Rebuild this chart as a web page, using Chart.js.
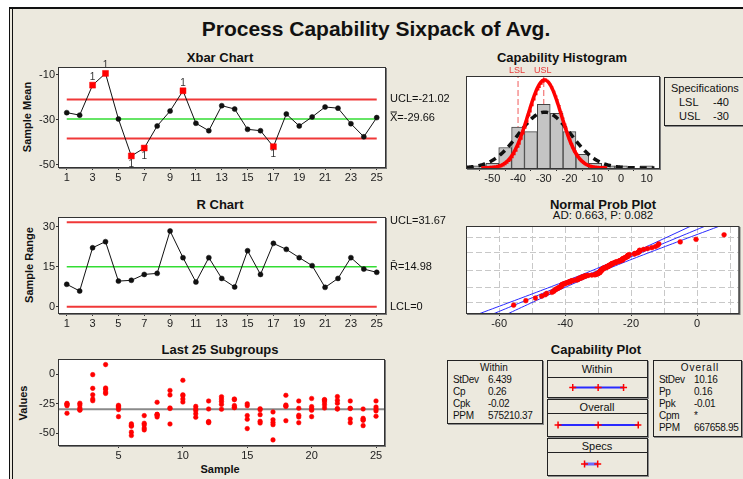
<!DOCTYPE html>
<html lang="en">
<head>
<meta charset="UTF-8">
<title>Process Capability Sixpack of Avg.</title>
<script src="https://cdn.jsdelivr.net/npm/chart.js"></script>
<style>
  html, body { margin: 0; padding: 0; background: #fff; }
  body { position: relative; width: 743px; height: 479px; overflow: hidden;
         font-family: "Liberation Sans", Arial, sans-serif; color: #111; }
  #panel { position: absolute; left: 10px; top: 9px; width: 740px; height: 480px; background: #ece9de; }
  .rule { position: absolute; background: #111; }
  .lbl { position: absolute; white-space: nowrap; transform: translate(-50%, -50%); line-height: 1; }
  .lft { position: absolute; white-space: nowrap; transform: translateY(-50%); line-height: 1; }
  .st { font-size: 10px; letter-spacing: -0.3px; }
  .vert { position: absolute; white-space: nowrap; transform: translate(-50%, -50%) rotate(-90deg);
          font-weight: bold; font-size: 11px; line-height: 1; }
  .ttl { font-weight: bold; font-size: 13px; }
  .box { position: absolute; box-sizing: border-box; border: 1px solid #222; background: #ece9de;
         box-shadow: 1px 1px 0 #8a8a8a; }
  canvas { position: absolute; }
</style>
</head>
<body>
<div id="panel"></div>
<div class="rule" style="left:9px;top:7px;width:734px;height:2px"></div>
<div class="rule" style="left:9px;top:7px;width:1px;height:472px"></div>
<div class="rule" style="left:12px;top:9px;width:1px;height:470px"></div>

<div class="lbl" style="left:376px;top:28px;font-size:21px;font-weight:bold">Process Capability Sixpack of Avg.</div>
<div class="lbl ttl" style="left:220px;top:57px">Xbar Chart</div>
<div class="lbl ttl" style="left:220px;top:204px">R Chart</div>
<div class="lbl ttl" style="left:220px;top:349px">Last 25 Subgroups</div>
<div class="lbl ttl" style="left:562px;top:57px">Capability Histogram</div>
<div class="lbl ttl" style="left:603px;top:204px">Normal Prob Plot</div>
<div class="lbl" style="left:603px;top:216px;font-size:11.5px">AD: 0.663, P: 0.082</div>
<div class="lbl ttl" style="left:596px;top:349px">Capability Plot</div>
<div class="vert" style="left:27px;top:117px">Sample Mean</div>
<div class="vert" style="left:29px;top:265px">Sample Range</div>
<div class="vert" style="left:23px;top:403px">Values</div>
<div class="lbl" style="left:220px;top:469px;font-size:11px;font-weight:bold">Sample</div>

<!-- specifications box -->
<div class="box" style="left:664px;top:77px;width:100px;height:49px"></div>
<div class="lft" style="left:671px;top:88px;font-size:11px">Specifications</div>
<div class="lft" style="left:679px;top:102px;font-size:11px">LSL</div>
<div class="lft" style="left:713px;top:102px;font-size:11px">-40</div>
<div class="lft" style="left:679px;top:116px;font-size:11px">USL</div>
<div class="lft" style="left:713px;top:116px;font-size:11px">-30</div>

<!-- within stats -->
<div class="box" style="left:447px;top:360px;width:96px;height:64px"></div>
<div class="lbl" style="left:494px;top:368px;font-size:10px">Within</div>
<div class="lft st" style="left:453px;top:379.5px">StDev</div><div class="lft st" style="left:488px;top:379.5px">6.439</div>
<div class="lft st" style="left:453px;top:392px">Cp</div><div class="lft st" style="left:488px;top:392px">0.26</div>
<div class="lft st" style="left:453px;top:404px">Cpk</div><div class="lft st" style="left:488px;top:404px">-0.02</div>
<div class="lft st" style="left:453px;top:416px">PPM</div><div class="lft st" style="left:488px;top:416px">575210.37</div>

<!-- overall stats -->
<div class="box" style="left:653px;top:360px;width:89px;height:77px"></div>
<div class="lbl" style="left:700px;top:368px;font-size:10px;letter-spacing:1px">Overall</div>
<div class="lft st" style="left:659px;top:379.5px">StDev</div><div class="lft st" style="left:694px;top:379.5px">10.16</div>
<div class="lft st" style="left:659px;top:392px">Pp</div><div class="lft st" style="left:694px;top:392px">0.16</div>
<div class="lft st" style="left:659px;top:404px">Ppk</div><div class="lft st" style="left:694px;top:404px">-0.01</div>
<div class="lft st" style="left:659px;top:415.5px">Cpm</div><div class="lft st" style="left:694px;top:415.5px">*</div>
<div class="lft st" style="left:659px;top:427.5px">PPM</div><div class="lft st" style="left:694px;top:427.5px">667658.95</div>

<!-- capability plot boxes -->
<div class="box" style="left:547px;top:360px;width:101px;height:38px"></div>
<div class="rule" style="left:547px;top:377px;width:100px;height:1px;background:#222"></div>
<div class="lbl" style="left:597px;top:369px;font-size:11px">Within</div>
<div class="box" style="left:547px;top:399px;width:101px;height:38px"></div>
<div class="rule" style="left:547px;top:413px;width:100px;height:1px;background:#222"></div>
<div class="lbl" style="left:597px;top:406.5px;font-size:11px">Overall</div>
<div class="box" style="left:547px;top:438px;width:101px;height:38px"></div>
<div class="rule" style="left:547px;top:452px;width:100px;height:1px;background:#222"></div>
<div class="lbl" style="left:597px;top:445.5px;font-size:11px">Specs</div>

<script>
// ---------------- data ----------------
const samples = [1,2,3,4,5,6,7,8,9,10,11,12,13,14,15,16,17,18,19,20,21,22,23,24,25];
const xbarMeans = [-26.8,-27.9,-14.6,-9.4,-29.6,-46.0,-42.5,-32.7,-26.1,-17.1,-31.5,-34.8,-23.7,
                   -25.2,-34.2,-34.8,-41.9,-27.4,-32.7,-28.7,-24.3,-24.8,-31.7,-37.5,-29.0];
const xbarUCL = -21.02, xbarCenter = -29.66, xbarLCL = -38.30;
const xbarFlagged = [3,4,6,7,10,17];
const xbarFlagBelow = [6,7,17];
const xbarTicksX = [1,3,5,7,9,11,13,15,17,19,21,23,25];
const xbarTicksY = [-10,-30,-50];

const ranges = [8.4,5.9,22.1,24.4,9.6,9.9,12.1,12.5,28.4,18.4,9.25,18.4,10.6,
                7.4,21.0,12.1,23.75,21.5,18.4,15.4,7.25,10.6,18.4,14.1,12.9];
const rUCL = 31.67, rCenter = 14.98, rLCL = 0;
const rTicksY = [0,15,30];

const subgroupValues = [
  [-24.6,-25.2,-25.8,-26.6,-33.0], [-24.5,-26.0,-28.5,-30.1,-30.4], [-0.3,-11.9,-17.4,-21.0,-22.4],
  [8.2,-11.6,-12.6,-15.0,-16.2], [-26.3,-27.2,-28.3,-29.9,-35.9], [-42.0,-43.3,-44.0,-49.0,-51.9],
  [-35.0,-41.5,-42.9,-45.6,-47.1], [-23.7,-34.0,-34.0,-35.0,-36.2], [-13.7,-17.5,-28.5,-29.0,-42.1],
  [-5.1,-17.4,-18.1,-21.0,-23.5], [-27.2,-29.4,-30.8,-33.5,-36.4], [-22.6,-29.4,-40.0,-40.5,-41.0],
  [-19.0,-21.0,-23.0,-25.5,-29.6], [-20.9,-21.5,-26.5,-28.0,-28.3], [-25.0,-26.6,-35.0,-38.1,-46.0],
  [-29.2,-30.0,-34.2,-39.8,-41.3], [-31.9,-38.5,-40.8,-42.7,-55.6], [-17.8,-26.0,-26.8,-27.2,-39.3],
  [-22.6,-28.8,-34.7,-36.2,-41.0], [-20.5,-27.4,-29.1,-30.5,-35.9], [-21.4,-21.9,-23.5,-25.9,-28.6],
  [-18.9,-22.0,-24.5,-29.0,-29.5], [-22.6,-28.8,-29.0,-37.9,-41.0], [-29.4,-37.3,-38.5,-39.0,-43.5],
  [-22.6,-27.7,-29.5,-31.0,-35.5]
];
const lastTicksX = [5,10,15,20,25];
const lastTicksY = [0,-25,-50];

const binCenters = [-55,-50,-45,-40,-35,-30,-25,-20,-15,-10,-5,0,5,10];
const binCounts  = [1,2,9,18,16,28,24,16,6,2,1,1,0,1];
const histTicksX = [-50,-40,-30,-20,-10,0,10];
const LSL = -40, USL = -30;
const meanAll = -29.66, sdWithin = 6.439, sdOverall = 10.16;

const probGridX = [-60,-50,-40,-30,-20,-10,0,10];
const probTicksX = [-60,-40,-20,0];
const probGridPct = [1,10,50,90,99];

const withinInterval = [-48.98,-29.66,-10.34];
const overallInterval = [-60.14,-29.66,0.82];
const specInterval = [-40,-30];

// ---------------- helpers ----------------
const FONT = '"Liberation Sans", Arial, sans-serif';
const RED = '#f03838', GREEN = '#33dd33';
Chart.defaults.font.family = FONT;
Chart.defaults.animation = false;
Chart.defaults.responsive = false;
Chart.defaults.events = [];
Chart.defaults.plugins.legend.display = false;
Chart.defaults.plugins.tooltip.enabled = false;

function probit(p) {
  const a = [-3.969683028665376e+01, 2.209460984245205e+02, -2.759285104469687e+02, 1.383577518672690e+02, -3.066479806614716e+01, 2.506628277459239e+00];
  const b = [-5.447609879822406e+01, 1.615858368580409e+02, -1.556989798598866e+02, 6.680131188771972e+01, -1.328068155288572e+01];
  const c = [-7.784894002430293e-03, -3.223964580411365e-01, -2.400758277161838e+00, -2.549732539343734e+00, 4.374664141464968e+00, 2.938163982698783e+00];
  const d = [7.784695709041462e-03, 3.224671290700398e-01, 2.445134137142996e+00, 3.754408661907416e+00];
  const pl = 0.02425;
  if (p < pl) {
    const q = Math.sqrt(-2 * Math.log(p));
    return (((((c[0]*q+c[1])*q+c[2])*q+c[3])*q+c[4])*q+c[5]) / ((((d[0]*q+d[1])*q+d[2])*q+d[3])*q+1);
  }
  if (p > 1 - pl) {
    const q = Math.sqrt(-2 * Math.log(1 - p));
    return -(((((c[0]*q+c[1])*q+c[2])*q+c[3])*q+c[4])*q+c[5]) / ((((d[0]*q+d[1])*q+d[2])*q+d[3])*q+1);
  }
  const q = p - 0.5, r = q * q;
  return (((((a[0]*r+a[1])*r+a[2])*r+a[3])*r+a[4])*r+a[5])*q / (((((b[0]*r+b[1])*r+b[2])*r+b[3])*r+b[4])*r+1);
}
const normPdf = (x, m, s) => Math.exp(-0.5 * ((x - m) / s) ** 2) / (s * Math.sqrt(2 * Math.PI));

// white plot area + frame with darker right/bottom edge
const framePlugin = {
  id: 'frame',
  beforeDraw(chart) {
    const { ctx, chartArea: a } = chart;
    ctx.save();
    ctx.fillStyle = '#fff';
    ctx.fillRect(a.left, a.top, a.right - a.left, a.bottom - a.top);
    ctx.restore();
  },
  afterDraw(chart) {
    const { ctx, chartArea: a } = chart;
    ctx.save();
    ctx.strokeStyle = '#777';
    ctx.lineWidth = 2;
    ctx.beginPath();
    ctx.moveTo(a.right + 1, a.top);
    ctx.lineTo(a.right + 1, a.bottom + 1);
    ctx.lineTo(a.left, a.bottom + 1);
    ctx.stroke();
    ctx.strokeStyle = '#333';
    ctx.lineWidth = 1;
    ctx.strokeRect(a.left - 0.5, a.top - 0.5, a.right - a.left + 1, a.bottom - a.top + 1);
    ctx.restore();
  }
};

function tickAxis(min, max, ticks, extra) {
  return Object.assign({
    type: 'linear', min, max,
    afterBuildTicks: s => { s.ticks = ticks.map(v => ({ value: v })); },
    grid: { display: true, drawOnChartArea: false, color: '#333', tickLength: 3 },
    border: { display: false },
    ticks: { color: '#222', font: { size: 11 }, padding: 1, maxRotation: 0, autoSkip: false }
  }, extra || {});
}

// rect = page box of the canvas, area = page box of the plot area [left, top, right, bottom]
function makeChart(rect, area, config) {
  const [x, y, w, h] = rect;
  const [al, at, ar, ab] = area;
  const cv = document.createElement('canvas');
  cv.width = w; cv.height = h;
  cv.style.left = x + 'px'; cv.style.top = y + 'px';
  document.body.appendChild(cv);
  const o = config.options;
  o.layout = { padding: { left: 0, top: at - y, right: x + w - ar, bottom: 0 } };
  if (o.scales.x.display === false) o.layout.padding.bottom = y + h - ab;
  else o.scales.x.afterFit = s => { s.height = y + h - ab; };
  if (o.scales.y.display === false) o.layout.padding.left = al - x;
  else o.scales.y.afterFit = s => { s.width = al - x; };
  return new Chart(cv, config);
}

const hLine = (xa, xb, yv, color, width) => ({
  data: [{ x: xa, y: yv }, { x: xb, y: yv }], showLine: true, pointRadius: 0,
  borderColor: color, borderWidth: width
});

function limitLabels(items) {
  return {
    id: 'limitLabels',
    afterDraw(chart) {
      const { ctx } = chart;
      const ys = chart.scales.y;
      ctx.save();
      ctx.font = '11px ' + FONT;
      ctx.fillStyle = '#111';
      ctx.textBaseline = 'middle';
      items.forEach(([text, v, dy]) => ctx.fillText(text, 390, ys.getPixelForValue(v) + dy));
      ctx.restore();
    }
  };
}

// ---------------- Xbar chart ----------------
const isFlag = i => xbarFlagged.includes(samples[i]);
makeChart([0, 40, 450, 150], [59, 68, 385, 167], {
  type: 'scatter',
  data: {
    datasets: [
      {
        data: samples.map((s, i) => ({ x: s, y: xbarMeans[i] })),
        showLine: true, borderColor: '#111', borderWidth: 1,
        pointStyle: c => isFlag(c.dataIndex) ? 'rect' : 'circle',
        pointRadius: c => isFlag(c.dataIndex) ? 4.2 : 2.5,
        pointBackgroundColor: c => isFlag(c.dataIndex) ? '#ff0000' : '#111',
        pointBorderColor: c => isFlag(c.dataIndex) ? '#ff0000' : '#111',
        pointBorderWidth: 0.5
      },
      hLine(samples[0], samples[samples.length - 1], xbarUCL, RED, 2),
      hLine(samples[0], samples[samples.length - 1], xbarLCL, RED, 2),
      hLine(samples[0], samples[samples.length - 1], xbarCenter, GREEN, 1.5)
    ]
  },
  options: {
    scales: {
      x: tickAxis(0.4, 25.64, xbarTicksX),
      y: tickAxis(-50.9, -7.0, xbarTicksY)
    }
  },
  plugins: [framePlugin,
    limitLabels([['UCL=' + xbarUCL.toFixed(2), xbarUCL, -1], ['X\u033F=' + xbarCenter.toFixed(2), xbarCenter, -1]]),
    {
      id: 'flags',
      afterDatasetsDraw(chart) {
        const { ctx } = chart;
        const pts = chart.getDatasetMeta(0).data;
        ctx.save();
        ctx.font = '10px ' + FONT;
        ctx.fillStyle = '#333';
        ctx.textAlign = 'center';
        ctx.textBaseline = 'middle';
        xbarFlagged.forEach(s => {
          const p = pts[samples.indexOf(s)];
          ctx.fillText('1', p.x, p.y + (xbarFlagBelow.includes(s) ? 8 : -8));
        });
        ctx.restore();
      }
    }]
});

// ---------------- R chart ----------------
makeChart([0, 190, 450, 145], [59, 218, 385, 313], {
  type: 'scatter',
  data: {
    datasets: [
      {
        data: samples.map((s, i) => ({ x: s, y: ranges[i] })),
        showLine: true, borderColor: '#111', borderWidth: 1,
        pointRadius: 2.5, pointBackgroundColor: '#111', pointBorderColor: '#111', pointBorderWidth: 0.5
      },
      hLine(samples[0], samples[samples.length - 1], rUCL, RED, 2),
      hLine(samples[0], samples[samples.length - 1], rLCL, RED, 2),
      hLine(samples[0], samples[samples.length - 1], rCenter, GREEN, 1.5)
    ]
  },
  options: {
    scales: {
      x: tickAxis(0.4, 25.64, xbarTicksX),
      y: tickAxis(-2.36, 33.26, rTicksY)
    }
  },
  plugins: [framePlugin,
    limitLabels([['UCL=' + rUCL.toFixed(2), rUCL, -1], ['R\u0304=' + rCenter.toFixed(2), rCenter, 0], ['LCL=' + rLCL, rLCL, 0]])]
});

// ---------------- Last 25 subgroups ----------------
const lastXMin = 0.38, lastXMax = 25.62;
makeChart([0, 335, 450, 144], [59, 360, 384, 445], {
  type: 'scatter',
  data: {
    datasets: [
      {
        data: subgroupValues.flatMap((vals, i) => vals.map(v => ({ x: samples[i], y: v }))),
        pointRadius: 2.3, pointBackgroundColor: '#ff0000', pointBorderColor: '#ff0000', pointBorderWidth: 0.5
      },
      hLine(lastXMin, lastXMax, meanAll, '#8a8a8a', 2)
    ]
  },
  options: {
    scales: {
      x: tickAxis(lastXMin, lastXMax, lastTicksX),
      y: tickAxis(-59.9, 12.1, lastTicksY)
    }
  },
  plugins: [framePlugin]
});

// ---------------- Capability histogram ----------------
const histXMin = -59.83, histXMax = 14.77;
const nTotal = binCounts.reduce((s, v) => s + v, 0);
const binWidth = binCenters[1] - binCenters[0];
const curve = (from, to, sd) => {
  const pts = [];
  for (let x = from; x <= to + 1e-9; x += 0.25) pts.push({ x, y: normPdf(x, meanAll, sd) * nTotal * binWidth });
  return pts;
};
makeChart([455, 40, 210, 150], [467, 77, 659, 168], {
  type: 'bar',
  data: {
    datasets: [
      {
        type: 'line', order: 1, data: curve(meanAll - 3.8 * sdWithin, meanAll + 3.8 * sdWithin, sdWithin),
        borderColor: '#ff0000', borderWidth: 3.5, pointRadius: 0
      },
      {
        type: 'line', order: 2, data: curve(-60, 13, sdOverall),
        borderColor: '#111', borderWidth: 3.5, borderDash: [7, 5], pointRadius: 0
      },
      {
        type: 'bar', order: 3, data: binCenters.map((c, i) => ({ x: c, y: binCounts[i] })),
        backgroundColor: '#c4c4c4', borderColor: '#444', borderWidth: 1,
        barPercentage: 1, categoryPercentage: 1, borderSkipped: 'start'
      },
      {
        type: 'line', order: 4, data: [{ x: LSL, y: 0 }, { x: LSL, y: 40 }],
        borderColor: '#f05a5a', borderWidth: 1, borderDash: [6, 3], pointRadius: 0
      },
      {
        type: 'line', order: 4, data: [{ x: USL, y: 0 }, { x: USL, y: 40 }],
        borderColor: '#f05a5a', borderWidth: 1, borderDash: [6, 3], pointRadius: 0
      }
    ]
  },
  options: {
    scales: {
      x: tickAxis(histXMin, histXMax, histTicksX, { offset: false }),
      y: { type: 'linear', min: 0, max: 40, display: false }
    }
  },
  plugins: [framePlugin, {
    id: 'specLabels',
    afterDraw(chart) {
      const { ctx, chartArea } = chart;
      ctx.save();
      ctx.font = '9px ' + FONT;
      ctx.fillStyle = '#e83a3a';
      ctx.textAlign = 'center';
      ctx.textBaseline = 'middle';
      ctx.fillText('LSL', chart.scales.x.getPixelForValue(LSL) - 1, chartArea.top - 6);
      ctx.fillText('USL', chart.scales.x.getPixelForValue(USL) - 1, chartArea.top - 6);
      ctx.restore();
    }
  }]
});

// ---------------- Normal probability plot ----------------
const sorted = subgroupValues.flat().sort((a, b) => a - b);
const n = sorted.length;
const probPoints = sorted.map((v, i) => ({ x: v, y: probit((i + 1 - 0.3) / (n + 0.4)) }));
const fitLine = [], ciLow = [], ciHigh = [];
for (let z = -3.4; z <= 3.4 + 1e-9; z += 0.1) {
  const xm = meanAll + sdOverall * z;
  const half = 1.96 * sdOverall * Math.sqrt(1 / n + z * z / (2 * n));
  fitLine.push({ x: xm, y: z });
  ciLow.push({ x: xm - half, y: z });
  ciHigh.push({ x: xm + half, y: z });
}
const blue = d => ({ data: d, showLine: true, pointRadius: 0, borderColor: '#2a2aff', borderWidth: 1 });
makeChart([455, 190, 288, 145], [467, 227, 740, 313], {
  type: 'scatter',
  data: {
    datasets: [
      { data: probPoints, pointRadius: 2.4, pointBackgroundColor: '#ff0000', pointBorderColor: '#ff0000', pointBorderWidth: 0.5 },
      blue(fitLine), blue(ciLow), blue(ciHigh)
    ]
  },
  options: {
    scales: {
      x: tickAxis(-69.74, 12.57, probGridX, {
        grid: { display: true, drawOnChartArea: true, color: '#c8c8c8', tickLength: 3,
                tickColor: c => probTicksX.includes(c.tick.value) ? '#333' : 'rgba(0,0,0,0)' },
        border: { display: false, dash: [6, 3] },
        ticks: { color: '#222', font: { size: 11 }, padding: 1, maxRotation: 0, autoSkip: false,
                 callback: v => probTicksX.includes(v) ? String(v) : '' }
      }),
      y: {
        type: 'linear', min: -3.1, max: 3.1,
        afterBuildTicks: s => { s.ticks = probGridPct.map(p => ({ value: probit(p / 100) })); },
        grid: { display: true, drawOnChartArea: true, drawTicks: false, color: '#c8c8c8' },
        border: { display: false, dash: [6, 3] },
        ticks: { display: false }
      }
    }
  },
  plugins: [framePlugin]
});

// ---------------- Capability plot intervals ----------------
const capXMin = -63.6, capXMax = 3.3;
function intervalChart(rect, values, color, width) {
  makeChart(rect, [rect[0], rect[1], rect[0] + rect[2], rect[1] + rect[3]], {
    type: 'scatter',
    data: {
      datasets: [{
        data: values.map(v => ({ x: v, y: 0 })), showLine: true,
        borderColor: color, borderWidth: width,
        pointStyle: 'cross', pointRadius: 3.5, pointBorderColor: '#ff0000', pointBorderWidth: 1.5
      }]
    },
    options: {
      scales: {
        x: { type: 'linear', min: capXMin, max: capXMax, display: false },
        y: { type: 'linear', min: -1, max: 1, display: false }
      }
    }
  });
}
intervalChart([548, 378, 99, 19], withinInterval, '#2a2aff', 2);
intervalChart([548, 414, 99, 22], overallInterval, '#2a2aff', 2);
intervalChart([548, 453, 99, 22], specInterval, '#6a6aff', 3);
</script>
</body>
</html>
